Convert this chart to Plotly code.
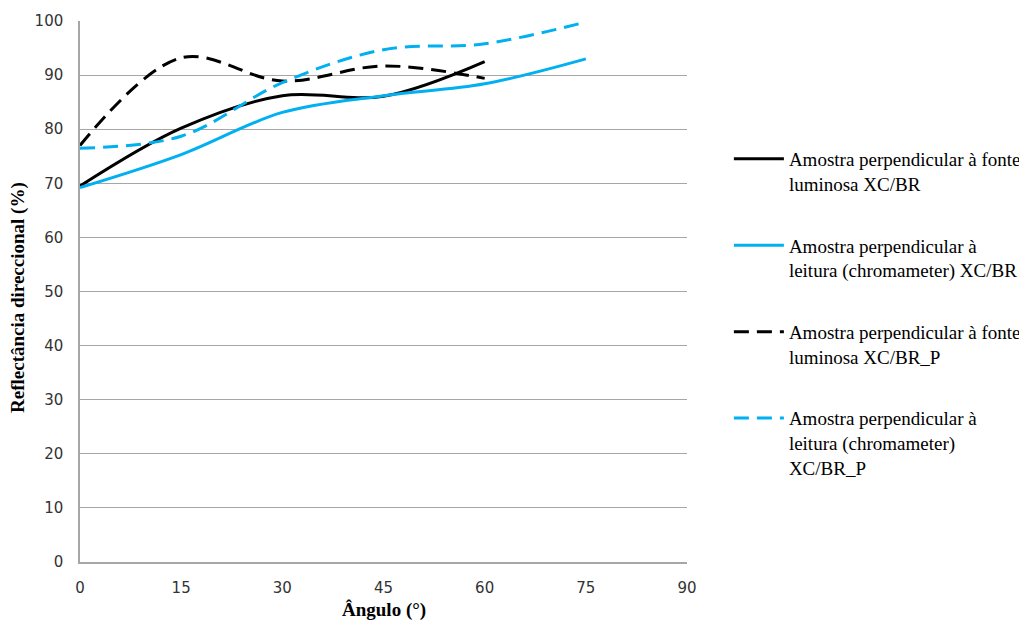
import plotly.graph_objects as go

angles = [0, 15, 30, 45, 60, 75]
angles_60 = [0, 15, 30, 45, 60]
fonte_xcbr = [69.5, 80.2, 86.2, 86.1, 92.5]
leitura_xcbr = [69.2, 75.3, 83.1, 86.2, 88.4, 93.0]
fonte_xcbr_p = [77.0, 93.2, 88.9, 91.7, 89.4]
leitura_xcbr_p = [76.5, 78.7, 88.6, 94.7, 95.8, 99.8]

x_ticks = [0, 15, 30, 45, 60, 75, 90]
y_ticks = [0, 10, 20, 30, 40, 50, 60, 70, 80, 90, 100]

names = [
    "Amostra perpendicular à fonte<br>luminosa XC/BR",
    "Amostra perpendicular à<br>leitura (chromameter) XC/BR",
    "Amostra perpendicular à fonte<br>luminosa XC/BR_P",
    "Amostra perpendicular à<br>leitura (chromameter)<br>XC/BR_P",
]
x_title = "Ângulo (°)"
y_title = "Reflectância direccional (%)"

BLUE = "#00B0F0"
DASH = "15px,8px"
GRID = "#A6A6A6"

# the page body has an 8px default margin, so the figure is drawn 8px smaller
W, H = 1019, 620
ML, MR, MT, MB = 72, 340, 13, 66

fig = go.Figure()
series = [
    (angles_60, fonte_xcbr, "black", "solid"),
    (angles, leitura_xcbr, BLUE, "solid"),
    (angles_60, fonte_xcbr_p, "black", DASH),
    (angles, leitura_xcbr_p, BLUE, DASH),
]
for i, (xs, ys, c, d) in enumerate(series):
    fig.add_trace(go.Scatter(
        x=xs, y=ys, mode="lines", name=names[i], legendgroup=f"g{i}",
        line=dict(color=c, width=3, dash=d, shape="spline", smoothing=1.0),
    ))

plot_w = W - ML - MR
fig.update_layout(
    width=W, height=H,
    margin=dict(l=ML, r=MR, t=MT, b=MB, autoexpand=False),
    paper_bgcolor="white", plot_bgcolor="white",
    font=dict(family="DejaVu Sans", size=15, color="#333333"),
    legend=dict(
        x=1.069, y=0.78, xanchor="left", yanchor="top",
        font=dict(family="Liberation Serif", size=19, color="black"),
        tracegroupgap=34, bgcolor="rgba(0,0,0,0)", itemwidth=50, valign="top",
    ),
    showlegend=True,
    annotations=[
        dict(text=f"<b>{x_title}</b>", x=0.5, y=-0.088, xref="paper", yref="paper",
             xanchor="center", yanchor="middle", showarrow=False,
             font=dict(family="Liberation Serif", size=19, color="black")),
        dict(text=f"<b>{y_title}</b>", x=(10 - ML) / plot_w, y=0.488, xref="paper", yref="paper",
             xanchor="center", yanchor="middle", showarrow=False, textangle=-90,
             font=dict(family="Liberation Serif", size=19, color="black")),
    ],
)

fig.update_xaxes(
    range=[0, 90], tickvals=x_ticks, automargin=False,
    showgrid=False, showline=True, linecolor=GRID, linewidth=1.5,
    ticks="", ticklabelstandoff=11, zeroline=False,
)
fig.update_yaxes(
    range=[0, 100], tickvals=y_ticks, automargin=False,
    showgrid=True, gridcolor=GRID, gridwidth=1.2,
    showline=True, linecolor=GRID, linewidth=1.5,
    ticks="", ticklabelstandoff=12, zeroline=False,
)

fig.write_html("out.html")
